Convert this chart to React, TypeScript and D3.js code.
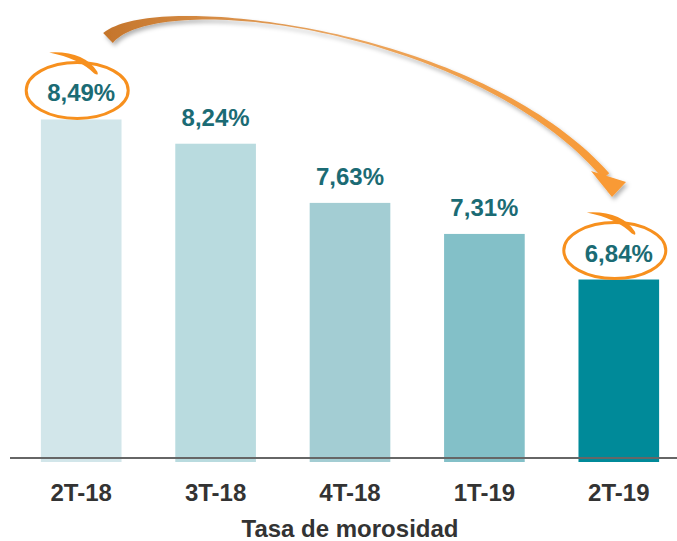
import React from "react";
import * as d3 from "d3";

const categories = ["2T-18", "3T-18", "4T-18", "1T-19", "2T-19"];
const values = [8.49, 8.24, 7.63, 7.31, 6.84];
const labels = ["8,49%", "8,24%", "7,63%", "7,31%", "6,84%"];
const barColors = ["#d2e6ea", "#b9dbdf", "#a3cdd3", "#83c0c8", "#008a99"];
const circled = [0, 4];
const title = "Tasa de morosidad";

const sizing = { width: 677, height: 541, baseline: 458 };
const font = "'Liberation Sans', Arial, sans-serif";
const orange = "#f7901e";

// highlight ring around a label, with its little swoosh on top
function Ring({ cx, cy }: { cx: number; cy: number }) {
  const ax = cx - 28;
  const ay = cy - 38;
  const tail =
    `M${ax},${ay} Q${ax + 34},${ay - 2} ${ax + 48},${ay + 19} ` +
    `Q${ax + 50},${ay + 24} ${ax + 45},${ay + 21} ` +
    `Q${ax + 30},${ay + 6} ${ax},${ay} Z`;
  return (
    <g>
      <ellipse cx={cx} cy={cy} rx={51} ry={28} fill="none" stroke={orange} strokeWidth={3} />
      <path d={tail} fill={orange} />
    </g>
  );
}

// tapered curved arrow built around a cubic bezier
function arrowPath() {
  const p0 = [108, 38], p1 = [160, -12], p2 = [480, 30], p3 = [606, 176];
  const pt = (t: number) => {
    const u = 1 - t;
    const a = u * u * u, b = 3 * u * u * t, c = 3 * u * t * t, d = t * t * t;
    return [a * p0[0] + b * p1[0] + c * p2[0] + d * p3[0], a * p0[1] + b * p1[1] + c * p2[1] + d * p3[1]];
  };
  const der = (t: number) => {
    const u = 1 - t;
    return [
      3 * u * u * (p1[0] - p0[0]) + 6 * u * t * (p2[0] - p1[0]) + 3 * t * t * (p3[0] - p2[0]),
      3 * u * u * (p1[1] - p0[1]) + 6 * u * t * (p2[1] - p1[1]) + 3 * t * t * (p3[1] - p2[1]),
    ];
  };
  const w = (t: number) =>
    t < 0.45 ? 1.5 + 12.5 * Math.pow(1 - t / 0.45, 2) : 1.5 + 7 * Math.pow((t - 0.45) / 0.55, 1.5);
  const left: number[][] = [];
  const right: number[][] = [];
  const n = 80;
  for (let i = 0; i <= n; i++) {
    const t = i / n;
    const [x, y] = pt(t);
    const [dx, dy] = der(t);
    const l = Math.hypot(dx, dy);
    const nx = -dy / l, ny = dx / l;
    const h = w(t) / 2;
    left.push([x + nx * h, y + ny * h]);
    right.push([x - nx * h, y - ny * h]);
  }
  const line = d3.line();
  const body = line([...left, ...right.reverse()]) + "Z";
  // head
  const [ex, ey] = pt(1);
  const head = `M${ex - 15},${ey - 5} L${ex + 20},${ey + 6} L${ex + 6},${ey + 21} Z`;
  return { body, head };
}

export default function App() {
  const x = d3
    .scaleBand()
    .domain(categories)
    .range([14, 686])
    .paddingInner(0.4)
    .paddingOuter(0.2);

  const y = d3.scaleLinear().domain([5, 9]).range([sizing.baseline, sizing.baseline - 4 * 97]);

  const { body, head } = arrowPath();

  return (
    <svg
      width={sizing.width}
      height={sizing.height}
      style={{ position: "absolute", left: 0, top: 0, background: "white" }}
    >
      <defs>
        <linearGradient id="arrowGrad" gradientUnits="userSpaceOnUse" x1={100} y1={0} x2={620} y2={0}>
          <stop offset="0" stopColor="#c4742a" />
          <stop offset="0.45" stopColor="#e9a560" />
          <stop offset="1" stopColor="#f99a35" />
        </linearGradient>
        <filter id="shadow" x="-10%" y="-10%" width="130%" height="140%">
          <feDropShadow dx={2} dy={3} stdDeviation={2} floodColor="#000" floodOpacity={0.3} />
        </filter>
      </defs>

      {categories.map((c, i) => (
        <rect
          key={`bar${i}`}
          x={x(c)}
          y={y(values[i])}
          width={x.bandwidth()}
          height={sizing.baseline + 4 - y(values[i])}
          fill={barColors[i]}
        />
      ))}

      <line x1={10} x2={677} y1={sizing.baseline} y2={sizing.baseline} stroke="#666" strokeWidth={2} />

      {categories.map((c, i) => (
        <text
          key={`val${i}`}
          x={(x(c) as number) + x.bandwidth() / 2}
          y={y(values[i]) - 18}
          textAnchor="middle"
          fontFamily={font}
          fontWeight="bold"
          fontSize={24}
          fill="#1b6b74"
        >
          {labels[i]}
        </text>
      ))}

      {categories.map((c, i) => (
        <text
          key={`cat${i}`}
          x={(x(c) as number) + x.bandwidth() / 2}
          y={501}
          textAnchor="middle"
          fontFamily={font}
          fontWeight="bold"
          fontSize={24}
          fill="#333"
        >
          {c}
        </text>
      ))}

      <text x={350} y={537} textAnchor="middle" fontFamily={font} fontWeight="bold" fontSize={24} fill="#333">
        {title}
      </text>

      {circled.map((i) => (
        <Ring
          key={`ring${i}`}
          cx={(x(categories[i]) as number) + x.bandwidth() / 2 - 4}
          cy={y(values[i]) - 29}
        />
      ))}

      <g filter="url(#shadow)">
        <path d={body} fill="url(#arrowGrad)" />
        <path d={head} fill="#f99a35" />
      </g>
    </svg>
  );
}
